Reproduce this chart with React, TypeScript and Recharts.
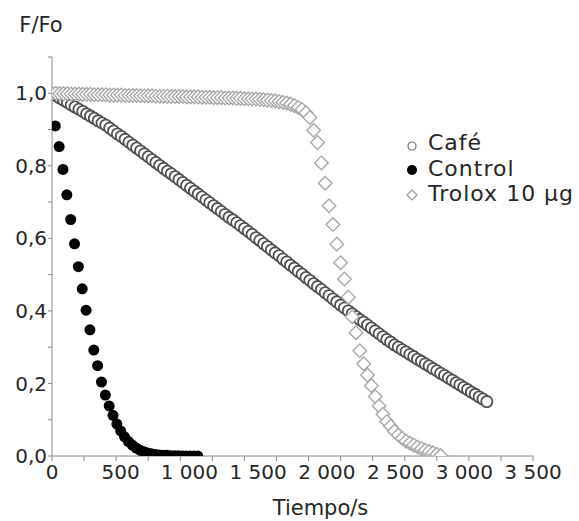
import React from 'react';
import { ScatterChart, Scatter, XAxis, YAxis, Legend } from 'recharts';

// ---- data ----
const cafeTime = [
  0, 28, 56, 84, 112, 140, 168, 196, 224, 252, 280, 308, 336, 364, 392, 420, 448, 476, 504, 532,
  560, 588, 616, 644, 672, 700, 728, 756, 784, 812, 840, 868, 896, 924, 952, 980, 1008, 1036, 1064, 1092,
  1120, 1148, 1176, 1204, 1232, 1260, 1288, 1316, 1344, 1372, 1400, 1428, 1456, 1484, 1512, 1540, 1568, 1596, 1624, 1652,
  1680, 1708, 1736, 1764, 1792, 1820, 1848, 1876, 1904, 1932, 1960, 1988, 2016, 2044, 2072, 2100, 2128, 2156, 2184, 2212,
  2240, 2268, 2296, 2324, 2352, 2380, 2408, 2436, 2464, 2492, 2520, 2548, 2576, 2604, 2632, 2660, 2688, 2716, 2744, 2772,
  2800, 2828, 2856, 2884, 2912, 2940, 2968, 2996, 3024, 3052, 3080, 3108, 3136, 3164,
];
const cafeValues = [
  1.0, 0.994, 0.987, 0.981, 0.975, 0.968, 0.962, 0.956, 0.95, 0.943, 0.937, 0.931, 0.924, 0.918, 0.912, 0.904, 0.896, 0.888, 0.881, 0.873,
  0.865, 0.857, 0.849, 0.841, 0.833, 0.825, 0.817, 0.809, 0.801, 0.793, 0.785, 0.778, 0.77, 0.762, 0.754, 0.746, 0.738, 0.73, 0.722, 0.714,
  0.706, 0.698, 0.69, 0.682, 0.674, 0.666, 0.658, 0.651, 0.643, 0.635, 0.627, 0.619, 0.611, 0.602, 0.594, 0.585, 0.577, 0.568, 0.56, 0.552,
  0.543, 0.535, 0.526, 0.518, 0.509, 0.501, 0.492, 0.484, 0.475, 0.467, 0.459, 0.45, 0.442, 0.433, 0.425, 0.416, 0.408, 0.4, 0.392, 0.384,
  0.376, 0.369, 0.361, 0.353, 0.345, 0.337, 0.329, 0.321, 0.314, 0.306, 0.3, 0.293, 0.287, 0.28, 0.274, 0.267, 0.261, 0.254, 0.248, 0.241,
  0.235, 0.228, 0.222, 0.215, 0.209, 0.202, 0.196, 0.189, 0.183, 0.176, 0.17, 0.163, 0.157, 0.15,
];

const controlTime = [
  24, 52, 80, 108, 136, 164, 192, 220, 248, 276, 304, 332, 360, 388, 416, 444, 472, 500, 528,
  556, 584, 612, 640, 668, 696, 724, 752, 780, 808, 836, 864, 892, 920, 948, 976, 1004, 1032, 1060,
];
const controlValues = [
  0.91, 0.853, 0.79, 0.72, 0.652, 0.585, 0.522, 0.461, 0.402, 0.348, 0.292, 0.249, 0.204, 0.168, 0.138, 0.112, 0.088, 0.069, 0.053,
  0.04, 0.03, 0.022, 0.016, 0.012, 0.008, 0.006, 0.004, 0.003, 0.002, 0.002, 0.001, 0.001, 0.001, 0.0, 0.0, 0.0, 0.0, 0.0,
];

const troloxTime = [
  0, 28, 56, 84, 112, 140, 168, 196, 224, 252, 280, 308, 336, 364, 392, 420, 448, 476, 504, 532,
  560, 588, 616, 644, 672, 700, 728, 756, 784, 812, 840, 868, 896, 924, 952, 980, 1008, 1036, 1064, 1092,
  1120, 1148, 1176, 1204, 1232, 1260, 1288, 1316, 1344, 1372, 1400, 1428, 1456, 1484, 1512, 1540, 1568, 1596, 1624, 1652,
  1680, 1708, 1736, 1764, 1792, 1820, 1848, 1876, 1904, 1932, 1960, 1988, 2016, 2044, 2072, 2100, 2128, 2156, 2184, 2212,
  2240, 2268, 2296, 2324, 2352, 2380, 2408, 2436, 2464, 2492, 2520, 2548, 2576, 2604, 2632, 2660, 2688, 2716, 2744, 2772,
  2800, 2828,
];
const troloxValues = [
  1.0, 1.0, 0.999, 0.999, 0.999, 0.998, 0.998, 0.998, 0.997, 0.997, 0.997, 0.996, 0.996, 0.996, 0.996, 0.995, 0.995, 0.995, 0.995, 0.994,
  0.994, 0.994, 0.994, 0.993, 0.993, 0.993, 0.993, 0.992, 0.992, 0.992, 0.992, 0.991, 0.991, 0.991, 0.991, 0.99, 0.99, 0.99, 0.99, 0.989,
  0.989, 0.989, 0.988, 0.988, 0.988, 0.987, 0.987, 0.987, 0.986, 0.986, 0.985, 0.985, 0.984, 0.984, 0.983, 0.982, 0.981, 0.98, 0.979, 0.977,
  0.975, 0.973, 0.97, 0.966, 0.961, 0.955, 0.946, 0.933, 0.898, 0.864, 0.808, 0.752, 0.69, 0.638, 0.584, 0.533, 0.488, 0.438, 0.384, 0.34,
  0.29, 0.254, 0.223, 0.194, 0.164, 0.138, 0.115, 0.095, 0.082, 0.068, 0.058, 0.049, 0.041, 0.035, 0.03, 0.025, 0.02, 0.016, 0.012, 0.009,
  0.005, 0.001,
];

const seriesNames = ['Café', 'Control', 'Trolox 10 µg'];

const xTickValues = [0, 500, 1000, 1500, 2000, 2500, 3000, 3500];
const xTickLabels = ['0', '500', '1 000', '1 500', '2 000', '2 500', '3 000', '3 500'];
const xMinorCount = 15;
const yTicks = [0, 0.1, 0.2, 0.3, 0.4, 0.5, 0.6, 0.7, 0.8, 0.9, 1.0, 1.1];

const toPoints = (xs: number[], ys: number[]) => xs.map((x, i) => ({ x, y: ys[i] }));
const cafeData = toPoints(cafeTime, cafeValues);
const controlData = toPoints(controlTime, controlValues);
const troloxData = toPoints(troloxTime, troloxValues);

const FONT = '"DejaVu Sans", Verdana, sans-serif';
const AXIS_COLOR = '#8a8a8a';
const TEXT_COLOR = '#262626';

const xMinor = Array.from({ length: xMinorCount + 1 }, (_, k) => (k * 3500) / xMinorCount);
const xAllTicks = Array.from(new Set([...xMinor, ...xTickValues])).sort((a, b) => a - b);

const CafeShape = (p: any) => (
  <circle cx={p.cx} cy={p.cy} r={5.6} fill="#ffffff" stroke="#505050" strokeWidth={1.8} />
);
const ControlShape = (p: any) => <circle cx={p.cx} cy={p.cy} r={5.5} fill="#000000" />;
const TroloxShape = (p: any) => {
  const s = 6.8;
  return (
    <polygon
      points={`${p.cx},${p.cy - s} ${p.cx + s},${p.cy} ${p.cx},${p.cy + s} ${p.cx - s},${p.cy}`}
      fill="#ffffff"
      stroke="#a8a8a8"
      strokeWidth={1.4}
    />
  );
};

const XTick = (props: any) => {
  const { x, y, payload } = props;
  const v = payload.value;
  const isMinor = xMinor.some((m) => Math.abs(m - v) < 1e-6);
  const li = xTickValues.findIndex((t) => Math.abs(t - v) < 1e-6);
  return (
    <g>
      {isMinor && <line x1={x} x2={x} y1={y - 9} y2={y - 4} stroke={AXIS_COLOR} strokeWidth={1} />}
      {li >= 0 && (
        <text x={x} y={y} dy="0.71em" textAnchor="middle" fontSize={20} fontFamily={FONT} fill={TEXT_COLOR}>
          {xTickLabels[li]}
        </text>
      )}
    </g>
  );
};

const legendMarkers = [
  (
    <svg width={16} height={16} style={{ position: 'relative', top: 3 }}>
      <circle cx={8} cy={8} r={4} fill="#fff" stroke="#707070" strokeWidth={1.2} />
    </svg>
  ),
  (
    <svg width={16} height={16} style={{ position: 'relative', top: 2 }}>
      <circle cx={8} cy={8} r={5} fill="#000" />
    </svg>
  ),
  (
    <svg width={16} height={16} style={{ position: 'relative', top: 1 }}>
      <polygon points="8,3 13,8 8,13 3,8" fill="#fff" stroke="#999" strokeWidth={1.2} />
    </svg>
  ),
];

const LegendContent = () => (
  <div style={{ fontFamily: FONT, fontSize: 22, color: TEXT_COLOR, letterSpacing: 1 }}>
    {seriesNames.map((n, i) => (
      <div key={n} style={{ display: 'flex', alignItems: 'center', height: 25.5, lineHeight: '25.5px', whiteSpace: 'nowrap' }}>
        {legendMarkers[i]}
        <span style={{ marginLeft: 8 }}>{n}</span>
      </div>
    ))}
  </div>
);

export default function App() {
  return (
    <div style={{ position: 'absolute', left: 0, top: 0, width: 579, height: 521, background: '#fff' }}>
      <ScatterChart width={579} height={521} margin={{ top: 57, right: 46, bottom: 2, left: 2 }}>
        <XAxis
          type="number"
          dataKey="x"
          domain={[0, 3500]}
          ticks={xAllTicks}
          interval={0}
          tickLine={false}
          tickSize={5}
          tickMargin={4}
          tick={<XTick />}
          height={63}
          axisLine={{ stroke: AXIS_COLOR, strokeWidth: 1 }}
          allowDataOverflow
          label={{ value: 'Tiempo/s', position: 'insideBottom', offset: 4, dx: 28, fontSize: 21, fontFamily: FONT, fill: TEXT_COLOR }}
        />
        <YAxis
          type="number"
          dataKey="y"
          domain={[0, 1.1]}
          ticks={yTicks}
          interval={0}
          width={50}
          tickSize={4}
          tickMargin={1}
          tickLine={{ stroke: AXIS_COLOR }}
          axisLine={{ stroke: AXIS_COLOR, strokeWidth: 1 }}
          tick={{ fontSize: 20, fontFamily: FONT, fill: TEXT_COLOR }}
          tickFormatter={(v: number) => {
            const k = Math.round(v * 10);
            return k % 2 === 0 && k <= 10 ? v.toFixed(1).replace('.', ',') : '';
          }}
          allowDataOverflow
          label={{ value: 'F/Fo', position: 'top', offset: 25, dx: 14, fontSize: 21, fontFamily: FONT, fill: TEXT_COLOR }}
        />
        <Legend
          layout="vertical"
          align="center"
          verticalAlign="middle"
          content={<LegendContent />}
          wrapperStyle={{ left: 404, top: 130, width: 175 }}
        />
        <Scatter name={seriesNames[0]} data={cafeData} shape={CafeShape} isAnimationActive={false} />
        <Scatter name={seriesNames[1]} data={controlData} shape={ControlShape} isAnimationActive={false} />
        <Scatter name={seriesNames[2]} data={troloxData} shape={TroloxShape} isAnimationActive={false} />
      </ScatterChart>
    </div>
  );
}
